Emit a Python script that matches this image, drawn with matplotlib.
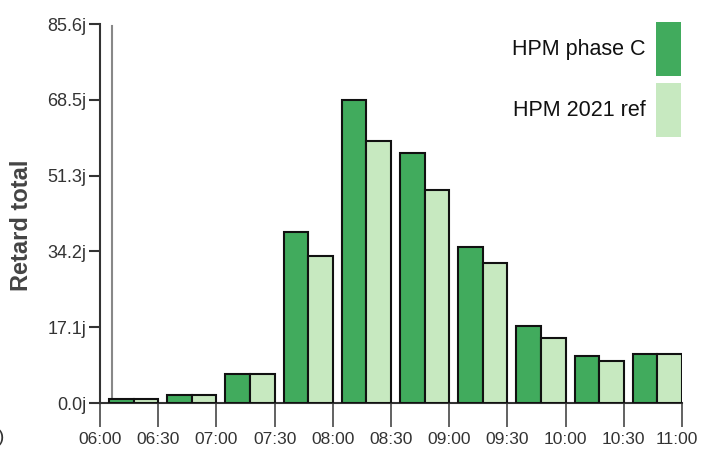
import numpy as np
import matplotlib
matplotlib.use('Agg')
import matplotlib.pyplot as plt
import matplotlib.transforms as mtransforms
from matplotlib.patches import Rectangle

plt.rcParams['font.family'] = ['Liberation Sans', 'DejaVu Sans']

# data
bins = ["06:00", "06:30", "07:00", "07:30", "08:00", "08:30",
        "09:00", "09:30", "10:00", "10:30"]
phase_c = [0.9, 1.8, 6.5, 38.7, 68.5, 56.4, 35.3, 17.4, 10.6, 11.1]
ref_2021 = [0.9, 1.8, 6.5, 33.2, 59.1, 48.2, 31.7, 14.6, 9.5, 11.1]
xtick_labels = ["06:00", "06:30", "07:00", "07:30", "08:00", "08:30",
                "09:00", "09:30", "10:00", "10:30", "11:00"]
ytick_labels = ["0.0j", "17.1j", "34.2j", "51.3j", "68.5j", "85.6j"]
labels = ["HPM phase C", "HPM 2021 ref"]
y_max = 85.58
marker_time = "06:06"

dark = "#41ab5d"
light = "#c7e9c0"


def to_min(s):
    h, m = s.split(":")
    return (int(h) - 6) * 60 + int(m)


x0 = np.array([to_min(b) for b in bins])
bw = 12.7
gap = 4.6

fig = plt.figure(figsize=(7.01, 4.58), dpi=100)
ax = fig.add_axes([100 / 701, 55 / 458, 582 / 701, 379 / 458])

ax.bar(x0 + gap, phase_c, width=bw, align='edge', color=dark,
       edgecolor='#111111', lw=1.5, zorder=3)
ax.bar(x0 + gap + bw, ref_2021, width=bw, align='edge', color=light,
       edgecolor='#111111', lw=1.5, zorder=3)

# thin grey marker line
ax.axvline(to_min(marker_time), ymin=0, ymax=0.995, color='#888888', lw=1.5, zorder=2)

ax.set_xlim(0, 300)
ax.set_ylim(0, y_max)
ax.set_xticks([to_min(t) for t in xtick_labels])
ax.set_xticklabels(xtick_labels, fontsize=12.5, color='#333333')
ax.set_yticks(np.linspace(0, y_max, len(ytick_labels)))
ax.set_yticklabels(ytick_labels, fontsize=13, color='#333333')

ax.tick_params(axis='x', length=17, width=1.3, color='#555555', pad=4)
ax.tick_params(axis='y', length=8, width=1.5, color='#333333', pad=2)

# nudge last tick label so it stays inside the picture
last = ax.get_xticklabels()[-1]
last.set_transform(last.get_transform() +
                   mtransforms.ScaledTranslation(-5 / 100, 0, fig.dpi_scale_trans))

ax.spines['top'].set_visible(False)
ax.spines['right'].set_visible(False)
ax.spines['left'].set_color('#333333')
ax.spines['left'].set_linewidth(1.5)
ax.spines['bottom'].set_color('#333333')
ax.spines['bottom'].set_linewidth(1.5)

ax.set_ylabel('Retard total', fontsize=17, fontweight='bold', color='#444444')
ax.yaxis.set_label_coords(-0.115, 0.47)

# legend drawn by hand
for i, (lab, col) in enumerate(zip(labels, [dark, light])):
    top = 22 + i * 61
    fig.patches.append(Rectangle((656 / 701, 1 - (top + 54) / 458), 25 / 701, 54 / 458,
                                 transform=fig.transFigure, facecolor=col,
                                 edgecolor='none'))
    fig.text(646 / 701, 1 - (top + 27) / 458, lab, ha='right', va='center',
             fontsize=15.5, color='#111111')

fig.text(0.008, 1 - 438 / 458, "(j0)", ha='right', va='center', fontsize=14,
         color='#333333')

plt.savefig('out.png', dpi=100)
